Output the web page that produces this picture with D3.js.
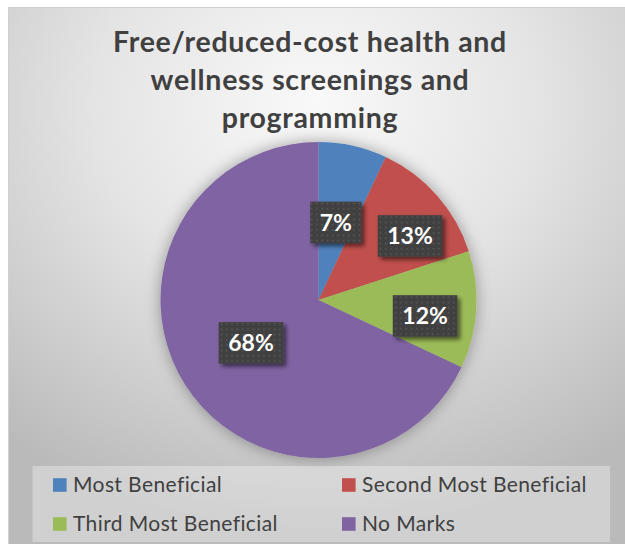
<!DOCTYPE html>
<html>
<head>
<meta charset="utf-8">
<script src="https://cdn.jsdelivr.net/npm/d3@7"></script>
<style>
  html, body { margin: 0; padding: 0; background: #ffffff; }
  svg { display: block; }
</style>
</head>
<body>
<svg id="chart" width="625" height="544"></svg>
<script>
// ---- data ----
const titleLines = ["Free/reduced-cost health and", "wellness screenings and", "programming"];
const categories = ["Most Beneficial", "Second Most Beneficial", "Third Most Beneficial", "No Marks"];
const values = [7, 13, 12, 68];
const colors = ["#4f81bd", "#c0504d", "#9bbb59", "#8064a2"];
// label placement tweaks (fraction of radius, angular shift in degrees)
const labelRadius = [0.503, 0.707, 0.682, 0.506];
const labelShift = [0, 6.4, 4.9, 0];

const svg = d3.select("#chart");
const defs = svg.append("defs");

// background gradient
const bg = defs.append("radialGradient").attr("id", "bgGrad")
  .attr("cx", "50%").attr("cy", "18%").attr("r", "80%").attr("fx", "50%").attr("fy", "18%");
bg.append("stop").attr("offset", "0%").attr("stop-color", "#f9f9f9");
bg.append("stop").attr("offset", "45%").attr("stop-color", "#e4e4e4");
bg.append("stop").attr("offset", "100%").attr("stop-color", "#bababa");

// pie shadow
const ps = defs.append("filter").attr("id", "pieShadow")
  .attr("x", "-20%").attr("y", "-20%").attr("width", "140%").attr("height", "140%");
ps.append("feGaussianBlur").attr("in", "SourceAlpha").attr("stdDeviation", 8).attr("result", "b");
ps.append("feComponentTransfer").attr("in", "b").attr("result", "b2")
  .append("feFuncA").attr("type", "linear").attr("slope", 0.35);
const psm = ps.append("feMerge");
psm.append("feMergeNode").attr("in", "b2");
psm.append("feMergeNode").attr("in", "SourceGraphic");

// label shadow
const ls = defs.append("filter").attr("id", "lblShadow")
  .attr("x", "-30%").attr("y", "-30%").attr("width", "170%").attr("height", "170%");
ls.append("feGaussianBlur").attr("in", "SourceAlpha").attr("stdDeviation", 2.2).attr("result", "b");
ls.append("feOffset").attr("in", "b").attr("dx", 3).attr("dy", 3).attr("result", "o");
ls.append("feComponentTransfer").attr("in", "o").attr("result", "o2")
  .append("feFuncA").attr("type", "linear").attr("slope", 0.55);
const lsm = ls.append("feMerge");
lsm.append("feMergeNode").attr("in", "o2");
lsm.append("feMergeNode").attr("in", "SourceGraphic");

// dot pattern for label boxes
const pat = defs.append("pattern").attr("id", "dots")
  .attr("width", 5.3).attr("height", 5.3).attr("patternUnits", "userSpaceOnUse");
pat.append("rect").attr("width", 5.3).attr("height", 5.3).attr("fill", "#404040");
pat.append("rect").attr("x", 1.5).attr("y", 1.5).attr("width", 1.6).attr("height", 1.6).attr("fill", "#5a5a5a");

// chart area
svg.append("rect").attr("x", 8).attr("y", 7).attr("width", 625 - 8).attr("height", 544 - 7)
  .attr("fill", "url(#bgGrad)");
svg.append("line").attr("x1", 8).attr("x2", 625).attr("y1", 7.5).attr("y2", 7.5)
  .attr("stroke", "#d0d0d0").attr("stroke-width", 1);
svg.append("line").attr("x1", 8.5).attr("x2", 8.5).attr("y1", 7).attr("y2", 544)
  .attr("stroke", "#d0d0d0").attr("stroke-width", 1);

// title
const titleFont = "Lato, 'Open Sans', sans-serif";
svg.append("g").selectAll("text").data(titleLines).join("text")
  .attr("x", 310).attr("y", (d, i) => 52 + i * 38)
  .attr("text-anchor", "middle")
  .attr("font-family", titleFont).attr("font-weight", 700).attr("font-size", 28.5)
  .attr("letter-spacing", 0.7)
  .attr("fill", "#404040")
  .text(d => d);

// pie
const cx = 318.5, cy = 300, R = 158;
const pie = d3.pie().sort(null).value(d => d)(values);
const arc = d3.arc().innerRadius(0).outerRadius(R);
const g = svg.append("g").attr("transform", `translate(${cx},${cy})`);
g.append("g").attr("filter", "url(#pieShadow)")
  .selectAll("path").data(pie).join("path")
  .attr("d", arc)
  .attr("fill", (d, i) => colors[i])
  .attr("stroke", "none");

// data labels
const total = d3.sum(values);
const fmt = v => Math.round(v / total * 100) + "%";
const lblG = g.append("g");
pie.forEach((d, i) => {
  const shift = labelShift[i] * Math.PI / 180;
  const r = R * labelRadius[i];
  const la = d3.arc().innerRadius(r).outerRadius(r)
    .startAngle(d.startAngle + shift).endAngle(d.endAngle + shift);
  const [lx, ly] = la.centroid();
  const grp = lblG.append("g").attr("transform", `translate(${lx},${ly})`);
  const box = grp.append("rect").attr("fill", "url(#dots)").attr("filter", "url(#lblShadow)");
  const t = grp.append("text")
    .attr("text-anchor", "middle").attr("dy", "0.36em")
    .attr("font-family", titleFont).attr("font-weight", 700).attr("font-size", 23)
    .attr("fill", "#ffffff")
    .text(fmt(values[i]));
  const w = t.node().getComputedTextLength() + 19;
  const h = 41.5;
  box.attr("x", -w / 2).attr("y", -h / 2).attr("width", w).attr("height", h);
});

// legend
const legX = 32.5, legY = 466, legW = 610 - 32.5, legH = 76;
svg.append("rect").attr("x", legX).attr("y", legY).attr("width", legW).attr("height", legH)
  .attr("fill", "#ffffff").attr("fill-opacity", 0.33);
const colX = [53, 342];
const rowY = [485, 524];
const leg = svg.append("g").selectAll("g").data(categories).join("g")
  .attr("transform", (d, i) => `translate(${colX[i % 2]},${rowY[Math.floor(i / 2)]})`);
leg.append("rect").attr("x", 0).attr("y", -6.8).attr("width", 13.6).attr("height", 13.6)
  .attr("fill", (d, i) => colors[i]);
leg.append("text").attr("x", 20).attr("y", 6.8)
  .attr("font-family", titleFont).attr("font-size", 21).attr("letter-spacing", 0.4)
  .attr("fill", "#404040")
  .text(d => d);
</script>
</body>
</html>
